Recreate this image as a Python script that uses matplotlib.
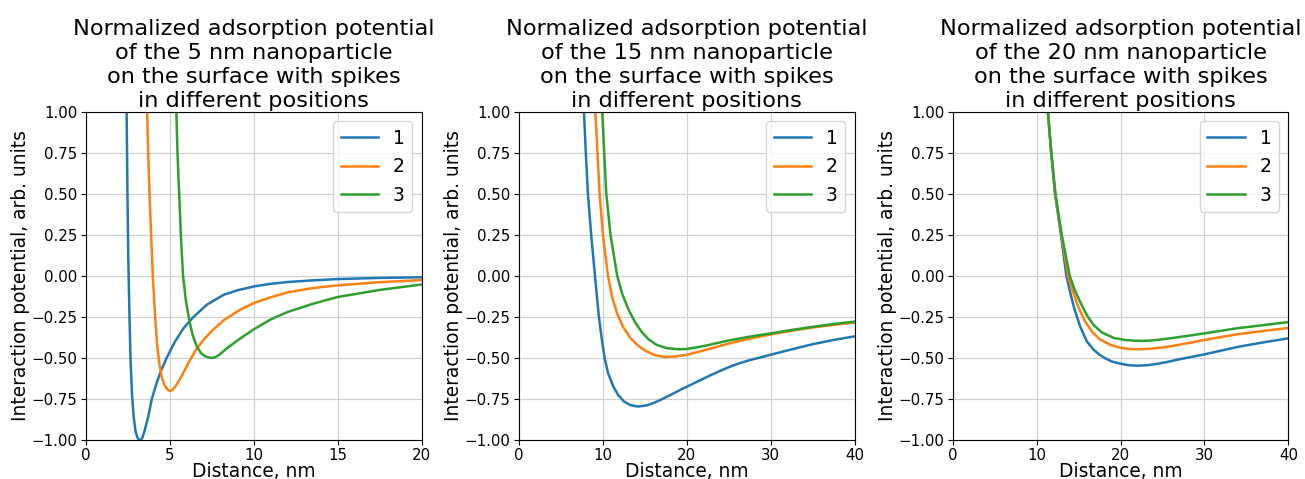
import matplotlib
matplotlib.use("Agg")
import matplotlib.pyplot as plt

# ---------------- data ----------------
titles = [
    "Normalized adsorption potential\nof the 5 nm nanoparticle\non the surface with spikes\nin different positions",
    "Normalized adsorption potential\nof the 15 nm nanoparticle\non the surface with spikes\nin different positions",
    "Normalized adsorption potential\nof the 20 nm nanoparticle\non the surface with spikes\nin different positions",
]
labels = ["1", "2", "3"]
xmax = [20, 40, 40]
xticks = [[0, 5, 10, 15, 20], [0, 10, 20, 30, 40], [0, 10, 20, 30, 40]]

# Panel 1 (5 nm)
p1_x1 = [2.38, 2.42, 2.47, 2.52, 2.58, 2.65, 2.74, 2.84, 2.95, 3.06, 3.16, 3.26, 3.36, 3.5, 3.7,
         3.92, 4.2, 4.5, 4.8, 5.3, 5.8, 6.35, 7.2, 8.2, 9.0, 10.0, 11.0, 12.0, 13.5, 15.0, 17.5, 20.0]
p1_y1 = [1.2, 1.0, 0.5, 0.1, -0.2, -0.5, -0.72, -0.86, -0.945, -0.985, -0.998, -1.0, -0.985, -0.94, -0.86,
         -0.75, -0.655, -0.57, -0.50, -0.40, -0.32, -0.255, -0.175, -0.115, -0.088, -0.064, -0.048, -0.037,
         -0.027, -0.019, -0.012, -0.008]
p1_x2 = [3.6, 3.64, 3.72, 3.8, 3.9, 3.98, 4.1, 4.22, 4.36, 4.52, 4.7, 4.87, 5.0, 5.15, 5.35, 5.7,
         6.1, 6.55, 7.0, 7.5, 8.2, 9.2, 10.0, 11.0, 12.0, 13.5, 15.0, 17.5, 20.0]
p1_y2 = [1.2, 1.0, 0.7, 0.45, 0.2, 0.0, -0.22, -0.40, -0.53, -0.62, -0.67, -0.695, -0.70, -0.695, -0.67, -0.61,
         -0.53, -0.45, -0.39, -0.335, -0.27, -0.205, -0.165, -0.13, -0.10, -0.074, -0.057, -0.038, -0.025]
p1_x3 = [5.34, 5.38, 5.45, 5.55, 5.65, 5.78, 5.95, 6.15, 6.35, 6.6, 6.85, 7.1, 7.3, 7.5, 7.7, 7.95,
         8.4, 9.2, 10.0, 11.0, 12.0, 13.5, 15.0, 17.5, 20.0]
p1_y3 = [1.2, 1.0, 0.75, 0.5, 0.25, 0.0, -0.15, -0.27, -0.36, -0.43, -0.47, -0.49, -0.497, -0.50, -0.495, -0.48,
         -0.44, -0.38, -0.325, -0.265, -0.22, -0.17, -0.128, -0.085, -0.052]

# Panel 2 (15 nm)
p2_x1 = [7.62, 7.74, 7.96, 8.21, 8.6, 9.05, 9.52, 9.85, 10.2, 10.6, 11.2, 11.8, 12.5, 13.3, 14.2, 15.3,
         16.0, 16.8, 17.6, 18.4, 19.2, 20.0, 21.2, 22.5, 23.8, 25.0, 26.2, 27.5, 28.8, 30.0, 32.5, 35.0,
         37.5, 40.0]
p2_y1 = [1.2, 1.0, 0.75, 0.5, 0.25, 0.0, -0.25, -0.38, -0.50, -0.59, -0.67, -0.725, -0.765, -0.788, -0.796,
         -0.788, -0.775, -0.757, -0.737, -0.716, -0.695, -0.675, -0.645, -0.613, -0.582, -0.556, -0.533,
         -0.513, -0.496, -0.48, -0.447, -0.416, -0.39, -0.368]
p2_x2 = [8.98, 9.1, 9.35, 9.6, 10.0, 10.6, 11.1, 11.7, 12.4, 13.3, 14.3, 15.2, 16.2, 17.4, 18.6, 20.0,
         21.2, 22.5, 25.0, 27.5, 30.0, 32.5, 35.0, 37.5, 40.0]
p2_y2 = [1.2, 1.0, 0.75, 0.5, 0.25, 0.0, -0.13, -0.23, -0.31, -0.38, -0.43, -0.46, -0.483, -0.494, -0.491,
         -0.48, -0.465, -0.447, -0.412, -0.382, -0.356, -0.334, -0.314, -0.298, -0.284]
p2_x3 = [9.82, 9.92, 10.15, 10.4, 10.9, 11.7, 12.3, 13.0, 13.8, 14.6, 15.4, 16.4, 17.6, 19.0, 20.0,
         21.2, 22.5, 25.0, 27.5, 30.0, 32.5, 35.0, 37.5, 40.0]
p2_y3 = [1.2, 1.0, 0.75, 0.5, 0.25, 0.0, -0.11, -0.2, -0.28, -0.34, -0.385, -0.42, -0.44, -0.447, -0.445,
         -0.435, -0.422, -0.393, -0.37, -0.35, -0.329, -0.31, -0.293, -0.278]

# Panel 3 (20 nm)
p3_x1 = [11.25, 11.35, 11.75, 12.2, 12.9, 13.55, 14.0, 14.5, 15.2, 16.0, 16.8, 17.5, 18.2, 19.0, 20.0,
         21.0, 22.0, 23.0, 24.2, 25.5, 27.0, 28.5, 30.0, 32.0, 34.0, 37.0, 40.0]
p3_y1 = [1.2, 1.0, 0.75, 0.5, 0.25, 0.0, -0.1, -0.2, -0.31, -0.40, -0.45, -0.48, -0.503, -0.522, -0.535,
         -0.544, -0.547, -0.545, -0.537, -0.525, -0.508, -0.493, -0.478, -0.455, -0.432, -0.405, -0.38]
p3_x2 = [11.25, 11.35, 11.75, 12.2, 12.95, 13.75, 14.3, 14.9, 15.7, 16.6, 17.5, 18.8, 20.0, 21.0, 22.2,
         23.5, 25.0, 26.5, 28.0, 30.0, 32.0, 34.0, 37.0, 40.0]
p3_y2 = [1.2, 1.0, 0.75, 0.5, 0.25, 0.0, -0.09, -0.18, -0.27, -0.34, -0.385, -0.42, -0.438, -0.445, -0.447,
         -0.444, -0.436, -0.424, -0.41, -0.39, -0.372, -0.355, -0.335, -0.317]
p3_x3 = [11.25, 11.35, 11.75, 12.25, 13.0, 13.95, 14.5, 15.2, 16.0, 16.8, 17.8, 19.2, 20.5, 21.5, 22.6,
         23.8, 25.0, 26.5, 28.0, 30.0, 32.0, 34.0, 37.0, 40.0]
p3_y3 = [1.2, 1.0, 0.75, 0.5, 0.25, 0.0, -0.08, -0.16, -0.24, -0.30, -0.345, -0.378, -0.39, -0.394, -0.396,
         -0.393, -0.386, -0.376, -0.365, -0.35, -0.334, -0.318, -0.3, -0.281]

panels = [
    [(p1_x1, p1_y1), (p1_x2, p1_y2), (p1_x3, p1_y3)],
    [(p2_x1, p2_y1), (p2_x2, p2_y2), (p2_x3, p2_y3)],
    [(p3_x1, p3_y1), (p3_x2, p3_y2), (p3_x3, p3_y3)],
]
colors = ["#1f77b4", "#ff7f0e", "#2ca02c"]
yticks = [-1.0, -0.75, -0.5, -0.25, 0.0, 0.25, 0.5, 0.75, 1.0]

# ---------------- figure ----------------
fig = plt.figure(figsize=(13.05, 4.79), dpi=100)
lefts = [0.0659, 0.3977, 0.7300]
for i in range(3):
    ax = fig.add_axes([lefts[i], 0.0814, 0.2573, 0.685])
    for (xs, ys), c, lab in zip(panels[i], colors, labels):
        ax.plot(xs, ys, color=c, lw=1.8, label=lab)
    ax.set_xlim(0, xmax[i])
    ax.set_ylim(-1, 1)
    ax.set_xticks(xticks[i])
    ax.set_yticks(yticks)
    ax.set_yticklabels([f"{v:.2f}".replace("-", "\u2212") for v in yticks])
    ax.tick_params(labelsize=10.8, pad=2.5)
    ax.grid(True, color="#d0d0d0", lw=0.9)
    ax.set_axisbelow(True)
    ax.set_xlabel("Distance, nm", fontsize=13.4, labelpad=-1)
    ax.set_ylabel("Interaction potential, arb. units", fontsize=13.4, labelpad=1)
    ax.set_title(titles[i], fontsize=16.2, pad=3.5, linespacing=1.26)
    ax.legend(loc="upper right", fontsize=13.5)

fig.savefig("out.png", dpi=100)
